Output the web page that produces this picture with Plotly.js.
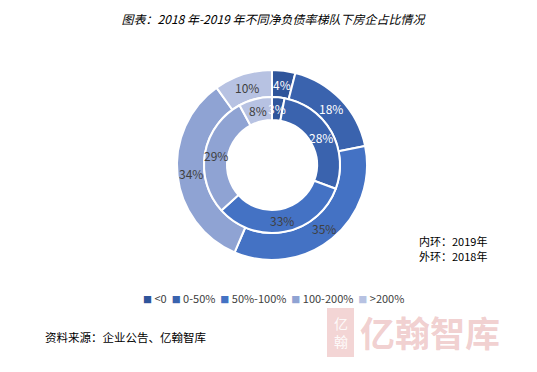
<!DOCTYPE html>
<html><head><meta charset="utf-8">
<script src="https://cdn.plot.ly/plotly-3.0.1.min.js"></script>
<style>html,body{margin:0;padding:0;background:#fff}#chart{width:537px;height:372px}</style>
</head><body><div id="chart"></div>
<script>
const categories = ['<0', '0-50%', '50%-100%', '100-200%', '>200%'];
const values2018 = [4, 18, 35, 34, 10];   // outer ring
const values2019 = [3, 28, 33, 29, 8];    // inner ring
const colors = ['#2F559B', '#3A63AE', '#4472C4', '#8FA3D3', '#B7C2E2'];
const outerTextColors = ['#ffffff', '#ffffff', '#404040', '#404040', '#404040'];
const innerTextColors = ['#ffffff', '#ffffff', '#404040', '#404040', '#404040'];

const W = 537, H = 372, cx = 272, cy = 165;
const rOuter = 95, rMid = 68, rHole = 45;
function dom(r){ return {x:[(cx-r)/W,(cx+r)/W], y:[(H-cy-r)/H,(H-cy+r)/H]}; }
const font = "'Noto Sans CJK SC', 'Microsoft YaHei', sans-serif";

function ring(vals, r0, r1){
  return {
    type:'pie', labels:categories, values:vals, sort:false, direction:'clockwise', rotation:0,
    hole: r0/r1, domain: dom(r1),
    marker:{colors:colors, line:{color:'#ffffff', width:2}},
    textinfo:'none', showlegend:false, hoverinfo:'label+value'
  };
}
const outer = ring(values2018, rMid, rOuter);
const inner = ring(values2019, rHole, rMid);

// slice labels at mid-angle, mid-radius of each ring segment
function sliceLabels(vals, r0, r1, tcolors){
  const total = vals.reduce((a,b)=>a+b,0);
  const r = (r0+r1)/2;
  let cum = 0;
  return vals.map((v,i)=>{
    const mid = (cum + v/2)/total*2*Math.PI; cum += v;
    const px = cx + r*Math.sin(mid), py = cy - r*Math.cos(mid);
    return {text: v+'%', x:px/W, y:(H-py)/H, xref:'paper', yref:'paper', xanchor:'center', yanchor:'middle',
            showarrow:false, font:{size:12, color:tcolors[i], family:font}};
  });
}

function esc(s){ return s.replace(/</g,'&lt;').replace(/>/g,'&gt;'); }
const legendText = categories.map((c,i)=>'<span style="color:'+colors[i]+';font-size:9px">■</span> '+esc(c)).join('  ');

const annotations = [
  ...sliceLabels(values2018, rMid, rOuter, outerTextColors),
  ...sliceLabels(values2019, rHole, rMid, innerTextColors),
  {text: legendText, x:273/W, y:(H-298)/H, xref:'paper', yref:'paper', xanchor:'center', yanchor:'middle', showarrow:false, borderpad:0, font:{size:11, color:'#404040', family:font}},
  {text:'内环：2019年', x:418/W, y:(H-241)/H, xref:'paper', yref:'paper', xanchor:'left', yanchor:'middle', showarrow:false, borderpad:0, font:{size:11, color:'#000', family:font}},
  {text:'外环：2018年', x:418/W, y:(H-256)/H, xref:'paper', yref:'paper', xanchor:'left', yanchor:'middle', showarrow:false, borderpad:0, font:{size:11, color:'#000', family:font}},
  {text:'资料来源：企业公告、亿翰智库', x:43/W, y:(H-337)/H, xref:'paper', yref:'paper', xanchor:'left', yanchor:'middle', showarrow:false, font:{size:11.5, color:'#000', family:font}},
  {text:'亿翰智库', x:359/W, y:(H-331)/H, xref:'paper', yref:'paper', xanchor:'left', yanchor:'middle', showarrow:false, borderpad:0, font:{size:35, color:'rgba(224,150,150,0.45)', family:font, weight:'bold'}},
  {text:'亿<br>翰', x:340.5/W, y:(H-332)/H, xref:'paper', yref:'paper', xanchor:'center', yanchor:'middle', showarrow:false, borderpad:0, font:{size:14, color:'rgba(255,255,255,0.9)', family:font}}
];

const shapes = [
  {type:'rect', xref:'paper', yref:'paper', x0:327/W, x1:354/W, y0:(H-357)/H, y1:(H-308)/H, fillcolor:'rgba(224,150,150,0.4)', line:{width:0}, layer:'below'}
];

const layout = {
  width:W, height:H, margin:{l:0,r:0,t:0,b:0}, paper_bgcolor:'#fff', plot_bgcolor:'#fff',
  title:{text:'<i>图表：2018 年-2019 年不同净负债率梯队下房企占比情况</i>', x:273/W, xanchor:'center', y:1-20/H, yanchor:'middle', font:{size:12, color:'#000', family:font}},
  showlegend:false, annotations:annotations, shapes:shapes
};
Plotly.newPlot('chart', [outer, inner], layout, {displayModeBar:false, staticPlot:true});
</script></body></html>
